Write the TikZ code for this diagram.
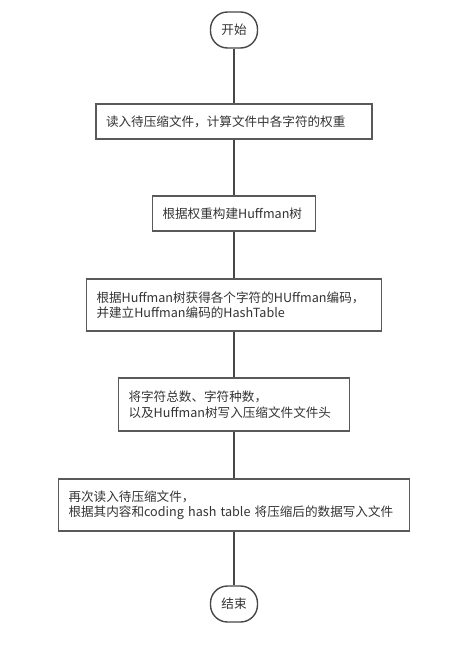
\documentclass[tikz,border=0pt]{standalone}
\usepackage{fontspec}
\setmainfont{Noto Sans CJK SC}
\begin{document}
\begin{tikzpicture}[x=1pt,y=-1pt]
\tikzstyle{every node}+=[font=\fontsize{12.6}{15.5}\selectfont, text=black!80]
\tikzstyle{stepbox}=[draw=black!65, line width=1.4pt, align=left, inner xsep=10pt, inner ysep=0pt]
\tikzstyle{terminal}=[draw=black!72, line width=1.4pt, rounded corners=17pt, minimum width=47pt, minimum height=36pt, inner sep=0pt]
\tikzstyle{flow}=[draw=black!72, line width=1.4pt]
\useasboundingbox (0,0) rectangle (453,645);
% start and end
\node [terminal] (start) at (234,30) {开始};
\node [terminal] (stop) at (234,604) {结束};
% steps
\node [stepbox, text width=256pt, minimum height=35pt] (read) at (234,121.5) {读入待压缩文件，计算文件中各字符的权重};
\node [stepbox, text width=143pt, minimum height=35pt] (tree) at (234,213.5) {根据权重构建Huffman树};
\node [stepbox, text width=275pt, minimum height=52pt] (code) at (234,305) {根据Huffman树获得各个字符的HUffman编码，\\并建立Huffman编码的HashTable};
\node [stepbox, text width=211pt, minimum height=53pt] (head) at (234,404.5) {将字符总数、字符种数，\\以及Huffman树写入压缩文件文件头};
\node [stepbox, text width=331pt, minimum height=52pt] (write) at (234,505) {再次读入待压缩文件，\\根据其内容和coding hash table 将压缩后的数据写入文件};
% connectors
\draw [flow] (start) -- (read);
\draw [flow] (read) -- (tree);
\draw [flow] (tree) -- (code);
\draw [flow] (code) -- (head);
\draw [flow] (head) -- (write);
\draw [flow] (write) -- (stop);
\end{tikzpicture}
\end{document}
